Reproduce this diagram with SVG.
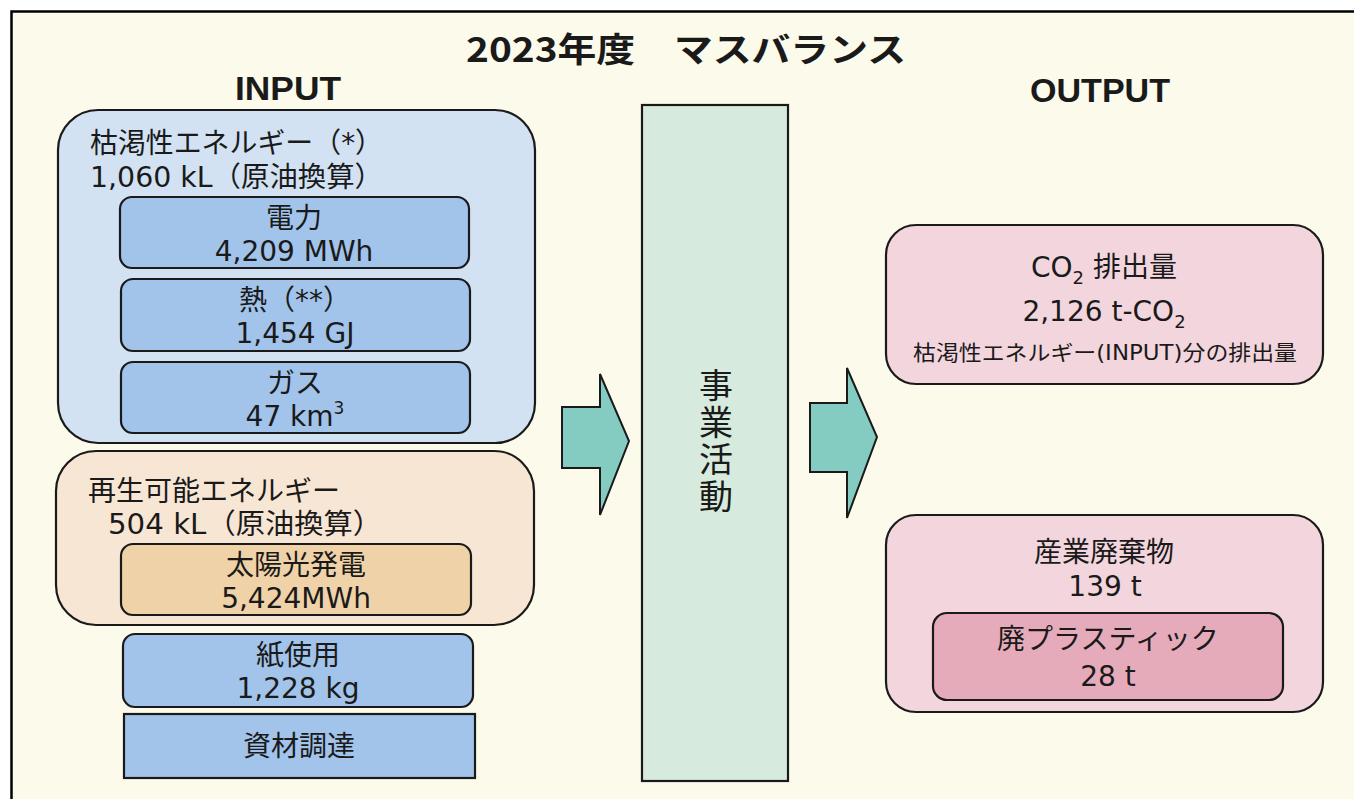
<svg xmlns="http://www.w3.org/2000/svg" width="1354" height="799" viewBox="0 0 1354 799">
<style>
text{font-family:"DejaVu Sans","Noto Sans CJK JP",sans-serif;fill:#1a1a1a;font-size:28px}
.c{text-anchor:middle}
.h{font-family:"Liberation Sans","Noto Sans CJK JP",sans-serif;font-weight:bold;font-size:34px;text-anchor:middle}
.t{font-family:"Noto Sans CJK JP",sans-serif;font-weight:bold;font-size:34px}
.v{font-family:"Noto Sans CJK JP",sans-serif;font-size:34px;writing-mode:vertical-rl;letter-spacing:3px}
.bx{stroke:#1a1a1a;stroke-width:2.2}
.blue0{fill:#D2E2F3}
.blue{fill:#A2C4EA}
.peach0{fill:#F8E6D4}
.peach{fill:#F0D2A8}
.pink0{fill:#F3D5DD}
.pink{fill:#E6ABBA}
.arr{fill:#84CCC2;stroke:#1a1a1a;stroke-width:2}
.sm{font-size:21px}
</style>
<rect x="0" y="0" width="1354" height="799" fill="#ffffff"/>
<rect x="11.5" y="11.5" width="1400" height="820" fill="#FCFAEB" stroke="#000" stroke-width="2.5"/>

<g id="title">
<text class="t c" x="686" y="62" textLength="440" lengthAdjust="spacingAndGlyphs">2023年度　マスバランス</text>
</g>
<g id="input-label"><text class="h" x="288" y="100" textLength="106" lengthAdjust="spacingAndGlyphs">INPUT</text></g>
<g id="output-label"><text class="h" x="1100" y="102" textLength="140" lengthAdjust="spacingAndGlyphs">OUTPUT</text></g>

<g id="nonrenewable">
<rect class="bx blue0" x="58" y="110" width="477" height="333" rx="40"/>
<text x="90" y="153" textLength="293" lengthAdjust="spacingAndGlyphs">枯渇性エネルギー（*）</text>
<text x="90" y="187" textLength="293" lengthAdjust="spacingAndGlyphs">1,060 kL（原油換算）</text>
</g>
<g id="electricity">
<rect class="bx blue" x="120" y="197" width="349" height="71" rx="12"/>
<text class="c" x="294" y="228">電力</text>
<text class="c" x="294" y="261">4,209 MWh</text>
</g>
<g id="heat">
<rect class="bx blue" x="121" y="279" width="349" height="72" rx="12"/>
<text class="c" x="295" y="310">熱（**）</text>
<text class="c" x="295" y="343">1,454 GJ</text>
</g>
<g id="gas">
<rect class="bx blue" x="121" y="362" width="349" height="71" rx="12"/>
<text class="c" x="295" y="393">ガス</text>
<text class="c" x="295" y="426">47 km<tspan font-size="17" dy="-12">3</tspan></text>
</g>

<g id="renewable">
<rect class="bx peach0" x="56" y="451" width="478" height="174" rx="40"/>
<text x="88" y="501">再生可能エネルギー</text>
<text x="108" y="534" textLength="274" lengthAdjust="spacingAndGlyphs">504 kL（原油換算）</text>
</g>
<g id="solar">
<rect class="bx peach" x="121" y="544" width="350" height="71" rx="12"/>
<text class="c" x="296" y="575">太陽光発電</text>
<text class="c" x="296" y="608">5,424MWh</text>
</g>
<g id="paper">
<rect class="bx blue" x="123" y="634" width="350" height="73" rx="12"/>
<text class="c" x="298" y="665">紙使用</text>
<text class="c" x="298" y="698">1,228 kg</text>
</g>
<g id="procurement">
<rect class="bx blue" x="124" y="714" width="351" height="64"/>
<text class="c" x="299" y="756">資材調達</text>
</g>

<g id="connectors">
<polygon class="arr" points="562,407 600,407 600,374 629,441 600,515 600,468 562,468"/>
<polygon class="arr" points="810,403 847,403 847,368 877,437 847,518 847,472 810,472"/>
</g>

<g id="business">
<rect class="bx" fill="#D6EBDD" x="642" y="105" width="146" height="676"/>
<text class="v" x="716" y="368">事業活動</text>
</g>

<g id="co2">
<rect class="bx pink0" x="886" y="225" width="437" height="159" rx="30"/>
<text class="c" x="1104" y="277">CO<tspan font-size="18" dy="7">2</tspan><tspan dy="-7">  排出量</tspan></text>
<text class="c" x="1104" y="321">2,126 t-CO<tspan font-size="18" dy="7">2</tspan></text>
<text class="c sm" x="1105" y="360" textLength="384" lengthAdjust="spacingAndGlyphs">枯渇性エネルギー(INPUT)分の排出量</text>
</g>

<g id="waste">
<rect class="bx pink0" x="886" y="515" width="437" height="197" rx="30"/>
<text class="c" x="1104" y="562">産業廃棄物</text>
<text class="c" x="1105" y="596">139 t</text>
</g>
<g id="plastic">
<rect class="bx pink" x="933" y="613" width="350" height="87" rx="14"/>
<text class="c" x="1108" y="649">廃プラスティック</text>
<text class="c" x="1108" y="686">28 t</text>
</g>
</svg>
